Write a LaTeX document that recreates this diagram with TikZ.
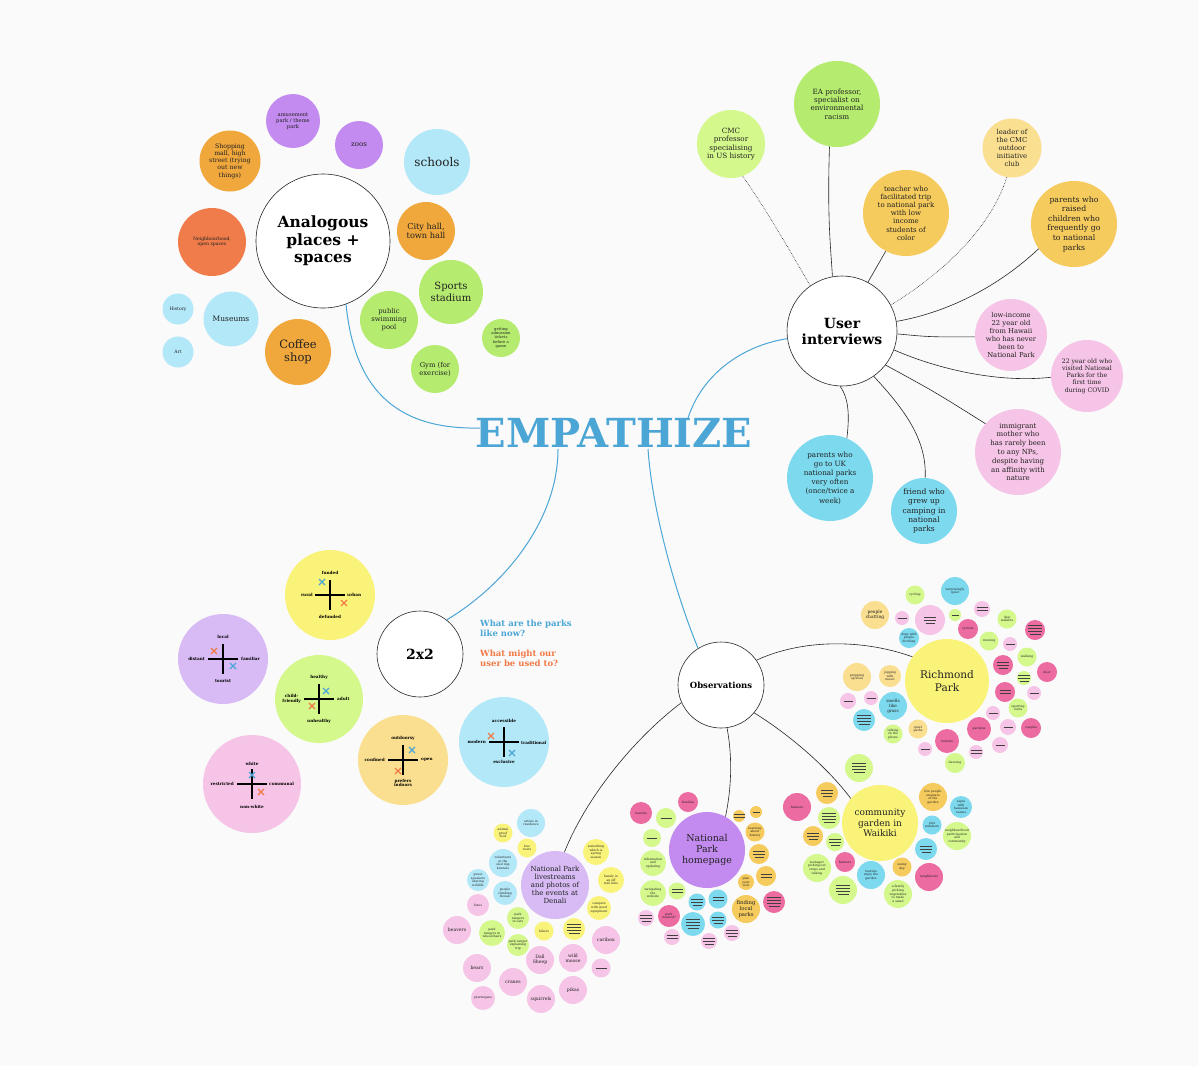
\documentclass[tikz,border=0pt]{standalone}
\usepackage{fontspec}
\setmainfont{DejaVu Serif}
\definecolor{bgc}{HTML}{FAFAFA}
\definecolor{txt}{HTML}{222222}
\definecolor{empblue}{HTML}{4BA6D6}
\definecolor{qorange}{HTML}{F07A46}
\definecolor{cPurple}{HTML}{C38BEF}
\definecolor{cLPurple}{HTML}{D8BBF5}
\definecolor{cOrange}{HTML}{F0A73C}
\definecolor{cRed}{HTML}{EF7C4A}
\definecolor{cLBlue}{HTML}{B3E8F8}
\definecolor{cCyan}{HTML}{7CD9EE}
\definecolor{cGreen}{HTML}{B5EC6F}
\definecolor{cLGreen}{HTML}{D4F88C}
\definecolor{cYellow}{HTML}{FAF379}
\definecolor{cLOr}{HTML}{FADF90}
\definecolor{cGold}{HTML}{F6CB5D}
\definecolor{cPink}{HTML}{F5C4E6}
\definecolor{cHot}{HTML}{EC6BA0}
\definecolor{xblue}{HTML}{4BA6D6}
\definecolor{xorange}{HTML}{F07A46}
\newcommand{\Lone}[1]{\textcolor{black!75}{\rule[0.3pt]{#1pt}{0.6pt}}}
\newcommand{\LI}{\Lone{9}}
\newcommand{\LII}{\Lone{11}\\\Lone{11}}
\newcommand{\LIII}{\Lone{12}\\\Lone{12}\\\Lone{9}}
\newcommand{\LIV}{\Lone{14}\\\Lone{14}\\\Lone{14}\\\Lone{11}}
\newcommand{\twoax}[2]{\draw[axis] (#1-15,#2) -- (#1+15,#2) (#1,#2-15) -- (#1,#2+15);}
\tikzset{
  fs/.style args={#1/#2}{font=\fontsize{#1}{#2}\selectfont},
  fsb/.style args={#1/#2}{font=\fontsize{#1}{#2}\selectfont\bfseries},
  bub/.style={circle, fill=#1, draw=none, inner sep=0pt, align=center, text=txt},
  hub/.style={circle, draw=black!85, line width=0.6pt, fill=white, inner sep=0pt, align=center, text=black},
  tb/.style={bub=#1, fs=3.1/3.6},
  mb/.style={bub=#1, fs=4.6/5.4},
  lb/.style={bub=#1, fs=2.6/3.0},
  conn/.style={draw=black!85, line width=0.6pt},
  dconn/.style={conn, densely dotted},
  bconn/.style={draw=empblue, line width=1pt},
  axis/.style={draw=black, line width=1.4pt},
  axl/.style={fsb=4.2/4.8, inner sep=0pt, align=center, text=black},
  xmk/.pic={\draw[line width=1.3pt] (-3,-3) -- (3,3) (-3,3) -- (3,-3);},
}
\begin{document}
\begin{tikzpicture}[x=1pt, y=-1pt]
\fill[bgc] (0,0) rectangle (1198,1066);
\useasboundingbox (0,0) rectangle (1198,1066);

% ---------- central title ----------
\node[fsb=40/42, text=empblue, inner sep=0pt] (emp) at (614,433) {EMPATHIZE};
\coordinate (empA) at (480,428);
\coordinate (empUI) at (688,418);
\coordinate (empT) at (558,449);
\coordinate (empO) at (648,449);

% ---------- Analogous places ----------
\node[hub, minimum size=134, fsb=15.5/17.5] (ana) at (323,241) {Analogous\\places +\\spaces};
\node[bub=cPurple, minimum size=54, fs=5.2/6] (amu) at (293,121) {amusement\\park / theme\\park};
\node[bub=cPurple, minimum size=48, fs=7/8] (zoo) at (359,145) {zoos};
\node[bub=cLBlue, minimum size=66, fs=12/13] (sch) at (437,162) {schools};
\node[bub=cOrange, minimum size=61, fs=6.2/7.2] (shp) at (230,161) {Shopping\\mall, high\\street (trying\\out new\\things)};
\node[bub=cRed, minimum size=68, fs=4.6/5.4] (nei) at (212,242) {Neighbourhood,\\open spaces};
\node[bub=cOrange, minimum size=58, fs=8.2/9.5] (cty) at (426,231) {City hall,\\town hall};
\node[bub=cGreen, minimum size=64, fs=10/11.5] (spo) at (451,292) {Sports\\stadium};
\node[bub=cGreen, minimum size=58, fs=6.8/8] (swi) at (389,320) {public\\swimming\\pool};
\node[bub=cGreen, minimum size=38, fs=3.8/4.4] (tix) at (501,338) {getting\\admission\\tickets\\before a\\game};
\node[bub=cGreen, minimum size=48, fs=6.8/8] (gym) at (435,369) {Gym (for\\exercise)};
\node[bub=cOrange, minimum size=66, fs=11.5/13] (cof) at (298,352) {Coffee\\shop};
\node[bub=cLBlue, minimum size=55, fs=7.5/9] (mus) at (231,319) {Museums};
\node[bub=cLBlue, minimum size=31, fs=4.5/5] (his) at (178,309) {History};
\node[bub=cLBlue, minimum size=31, fs=4.5/5] (art) at (178,352) {Art};
\draw[bconn] (ana.-70) .. controls (354,385) and (392,430) .. (empA);

% ---------- User interviews ----------
\node[hub, minimum size=110, fsb=14/16] (ui) at (842,331) {User\\interviews};
\node[bub=cLGreen, minimum size=68, fs=7.2/8.3] (cmc) at (731,144) {CMC\\professor\\specialising\\in US history};
\node[bub=cGreen, minimum size=86, fs=7.2/8.3] (ea) at (837,104) {EA professor,\\specialist on\\environmental\\racism};
\node[bub=cGold, minimum size=86, fs=7/8.2] (tea) at (906,213) {teacher who\\facilitated trip\\to national park\\with low\\income\\students of\\color};
\node[bub=cLOr, minimum size=59, fs=6.8/8] (lea) at (1012,148) {leader of\\the CMC\\outdoor\\initiative\\club};
\node[bub=cGold, minimum size=86, fs=7.8/9.6] (par) at (1074,224) {parents who\\raised\\children who\\frequently go\\to national\\parks};
\node[bub=cPink, minimum size=72, fs=6.8/7.9] (low) at (1011,335) {low-income\\22 year old\\from Hawaii\\who has never\\been to\\National Park};
\node[bub=cPink, minimum size=72, fs=6.2/7.2] (y22) at (1087,376) {22 year old who\\visited National\\Parks for the\\first time\\during COVID};
\node[bub=cPink, minimum size=86, fs=7/8.8] (imm) at (1018,452) {immigrant\\mother who\\has rarely been\\to any NPs,\\despite having\\an affinity with\\nature};
\node[bub=cCyan, minimum size=86, fs=7.2/9.2] (uk) at (830,478) {parents who\\go to UK\\national parks\\very often\\(once/twice a\\week)};
\node[bub=cCyan, minimum size=66, fs=7.6/9.4] (fri) at (924,511) {friend who\\grew up\\camping in\\national\\parks};
\draw[dconn] (cmc.-70) .. controls (770,215) and (795,260) .. (ui.125);
\draw[conn] (ea.-100) .. controls (827,220) and (831,250) .. (ui.100);
\draw[conn] (tea.-118) -- (ui.62);
\draw[dconn] (lea.-100) .. controls (990,230) and (940,275) .. (ui.28);
\draw[conn] (par.-145) .. controls (1000,285) and (950,312) .. (ui.10);
\draw[conn] (ui.-3) .. controls (930,337) .. (low.183);
\draw[conn] (ui.-20) .. controls (940,370) and (1000,383) .. (y22.182);
\draw[conn] (ui.-38) .. controls (935,392) .. (imm.139);
\draw[conn] (ui.-92) .. controls (850,400) and (849,420) .. (uk.67);
\draw[conn] (ui.-55) .. controls (905,410) and (927,440) .. (fri.88);
\draw[bconn] (ui.188) .. controls (745,345) and (703,372) .. (empUI);

% ---------- 2x2 ----------
\node[hub, minimum size=86, fsb=14/16] (two) at (420,654) {2x2};
\draw[bconn] (two.52) .. controls (505,585) and (558,520) .. (empT);
\node[fsb=8.5/10, text=empblue, align=left, anchor=north west, inner sep=0pt] (q1) at (480,620) {What are the parks\\like now?};
\node[fsb=8.5/10, text=qorange, align=left, anchor=north west, inner sep=0pt] (q2) at (480,650) {What might our\\user be used to?};

\node[bub=cYellow, minimum size=90] (ya) at (330,595) {};
\twoax{330}{595}
\node[axl] (ya1) at (330,573) {funded};
\node[axl] (ya2) at (330,617) {defunded};
\node[axl, anchor=east] (ya3) at (313,595) {rural};
\node[axl, anchor=west] (ya4) at (347,595) {urban};
\pic[color=xblue] at (322,582) {xmk};
\pic[color=xorange] at (344,603) {xmk};

\node[bub=cLPurple, minimum size=90] (pa) at (223,659) {};
\twoax{223}{659}
\node[axl] (pa1) at (223,637) {local};
\node[axl] (pa2) at (223,681) {tourist};
\node[axl, anchor=east] (pa3) at (205,659) {distant};
\node[axl, anchor=west] (pa4) at (241,659) {familiar};
\pic[color=xorange] at (214,651) {xmk};
\pic[color=xblue] at (233,666) {xmk};

\node[bub=cLGreen, minimum size=88] (ga) at (319,699) {};
\twoax{319}{699}
\node[axl] (ga1) at (319,677) {healthy};
\node[axl] (ga2) at (319,721) {unhealthy};
\node[axl, anchor=east] (ga3) at (301,699) {child-\\friendly};
\node[axl, anchor=west] (ga4) at (337,699) {adult};
\pic[color=xblue] at (326,691) {xmk};
\pic[color=xorange] at (312,706) {xmk};

\node[bub=cPink, minimum size=98] (pk) at (252,784) {};
\twoax{252}{784}
\node[axl] (pk1) at (252,764) {white};
\node[axl] (pk2) at (252,807) {non-white};
\node[axl, anchor=east] (pk3) at (234,784) {restricted};
\node[axl, anchor=west] (pk4) at (269,784) {communal};
\pic[color=xblue] at (252,775) {xmk};
\pic[color=xorange] at (261,792) {xmk};

\node[bub=cLOr, minimum size=90] (oa) at (403,760) {};
\twoax{403}{760}
\node[axl] (oa1) at (403,738) {outdoorsy};
\node[axl] (oa2) at (403,783) {prefers\\indoors};
\node[axl, anchor=east] (oa3) at (385,760) {confined};
\node[axl, anchor=west] (oa4) at (421,760) {open};
\pic[color=xblue] at (412,750) {xmk};
\pic[color=xorange] at (398,771) {xmk};

\node[bub=cLBlue, minimum size=90] (ba) at (504,742) {};
\twoax{504}{742}
\node[axl] (ba1) at (504,721) {accessible};
\node[axl] (ba2) at (504,762) {exclusive};
\node[axl, anchor=east] (ba3) at (486,742) {modern};
\node[axl, anchor=west] (ba4) at (521,743) {traditional};
\pic[color=xorange] at (491,736) {xmk};
\pic[color=xblue] at (512,753) {xmk};

% ---------- Observations ----------
\node[hub, minimum size=86, fsb=8.5/10] (obs) at (721,685) {Observations};
\draw[bconn] (obs.122) .. controls (676,595) and (652,510) .. (empO);

\node[bub=cYellow, minimum size=84, fs=10.5/12.5] (rp) at (947,681) {Richmond\\Park};
\node[bub=cPurple, minimum size=76, fs=9.5/11] (nph) at (707,850) {National\\Park\\homepage};
\node[bub=cYellow, minimum size=76, fs=9/10.5] (cg) at (880,823) {community\\garden in\\Waikiki};
\node[bub=cLPurple, minimum size=68, fs=7/7.9] (den) at (555,885) {National Park\\livestreams\\and photos of\\the events at\\Denali};
\draw[conn] (obs.35) .. controls (800,640) and (860,638) .. (rp.145);
\draw[conn] (obs.-82) .. controls (733,760) and (731,790) .. (nph.61);
\draw[conn] (obs.-40) .. controls (790,735) and (828,768) .. (cg.140);
\draw[conn] (obs.-156) .. controls (632,740) and (585,800) .. (den.74);

% ---------- Richmond Park cluster ----------
\node[tb=cLGreen, minimum size=19] (r1) at (915,595) {cycling};
\node[tb=cCyan, minimum size=28] (r2) at (955,591) {surprisingly\\quiet};
\node[bub=cLOr, minimum size=28, fs=4.4/5.2] (r3) at (875,615) {people\\chatting};
\node[lb=cPink, minimum size=14] (r4) at (902,618) {\LI};
\node[lb=cPink, minimum size=30] (r5) at (930,620) {\LIII};
\node[lb=cLGreen, minimum size=12] (r6) at (955,615) {\Lone{7}};
\node[lb=cPink, minimum size=16] (r7) at (982,609) {\LII};
\node[tb=cLGreen, minimum size=19] (r8) at (1007,619) {dog\\walkers};
\node[tb=cHot, minimum size=20] (r9) at (968,629) {cyclists};
\node[lb=cHot, minimum size=20] (r10) at (1035,630) {\LIV};
\node[tb=cCyan, minimum size=20] (r11) at (909,638) {dogs with\\people\\fetching};
\node[tb=cLGreen, minimum size=19] (r12) at (989,641) {running};
\node[lb=cPink, minimum size=14] (r13) at (1010,644) {\LI};
\node[lb=cHot, minimum size=20] (r14) at (1003,665) {\LIII};
\node[tb=cLGreen, minimum size=19] (r15) at (1027,657) {walking};
\node[tb=cHot, minimum size=20] (r16) at (1047,672) {deer};
\node[lb=cLGreen, minimum size=14] (r17) at (1024,678) {\LIII};
\node[tb=cLOr, minimum size=28] (r18) at (857,677) {propping\\up kites};
\node[tb=cLOr, minimum size=22] (r19) at (890,676) {jogging\\with\\music};
\node[lb=cHot, minimum size=20] (r20) at (1005,692) {\LII};
\node[lb=cPink, minimum size=14] (r21) at (1034,693) {\LI};
\node[lb=cPink, minimum size=16] (r22) at (848,701) {\LI};
\node[lb=cPink, minimum size=14] (r23) at (871,698) {\LI};
\node[bub=cCyan, minimum size=28, fs=4.2/5] (r24) at (893,706) {smells\\like\\grass};
\node[lb=cCyan, minimum size=22] (r25) at (864,720) {\LIV};
\node[lb=cPink, minimum size=14] (r26) at (993,713) {\LI};
\node[tb=cLGreen, minimum size=19] (r27) at (1018,708) {sporting\\clubs};
\node[tb=cLGreen, minimum size=19] (r28) at (893,734) {talking\\on the\\phone};
\node[tb=cLOr, minimum size=19] (r29) at (918,729) {quiet\\paths};
\node[tb=cHot, minimum size=24] (r30) at (979,729) {gardens};
\node[lb=cPink, minimum size=16] (r31) at (1008,727) {\LI};
\node[tb=cHot, minimum size=20] (r32) at (1031,728) {couples};
\node[tb=cHot, minimum size=24] (r33) at (947,741) {tourists};
\node[lb=cPink, minimum size=14] (r34) at (925,749) {\LI};
\node[lb=cPink, minimum size=14] (r35) at (976,752) {\LII};
\node[lb=cPink, minimum size=16] (r36) at (1000,745) {\LI};
\node[tb=cLGreen, minimum size=20] (r37) at (955,763) {dancing};

% ---------- National Park homepage cluster ----------
\node[tb=cHot, minimum size=20] (n1) at (688,802) {families};
\node[tb=cHot, minimum size=22] (n2) at (641,813) {tourists};
\node[lb=cLGreen, minimum size=20] (n3) at (666,818) {\Lone{11}};
\node[lb=cLGreen, minimum size=18] (n4) at (652,838) {\Lone{10}};
\node[lb=cGold, minimum size=12] (n5) at (739,816) {\LII};
\node[lb=cGold, minimum size=12] (n6) at (756,812) {\Lone{7}};
\node[tb=cGold, minimum size=19] (n7) at (755,832) {learning\\about\\history};
\node[lb=cGold, minimum size=20] (n8) at (759,854) {\LIII};
\node[lb=cGold, minimum size=20] (n9) at (766,876) {\LII};
\node[tb=cGold, minimum size=16] (n10) at (746,882) {plan\\your\\visit};
\node[tb=cLGreen, minimum size=26] (n11) at (653,863) {information\\and\\updating};
\node[tb=cLGreen, minimum size=26] (n12) at (653,893) {navigating\\the\\website};
\node[lb=cLGreen, minimum size=17] (n13) at (677,891) {\LII};
\node[lb=cCyan, minimum size=17] (n14) at (697,902) {\LIII};
\node[lb=cCyan, minimum size=19] (n15) at (718,899) {\LII};
\node[bub=cGold, minimum size=28, fs=5.3/6.3] (n16) at (746,909) {finding\\local\\parks};
\node[lb=cHot, minimum size=22] (n17) at (774,902) {\LIV};
\node[tb=cHot, minimum size=22] (n18) at (669,916) {park\\nearest?};
\node[lb=cPink, minimum size=16] (n19) at (646,918) {\LIII};
\node[lb=cCyan, minimum size=24] (n20) at (693,924) {\LIV};
\node[lb=cCyan, minimum size=17] (n21) at (718,920) {\LIII};
\node[lb=cPink, minimum size=16] (n22) at (732,933) {\LIII};
\node[lb=cPink, minimum size=16] (n23) at (672,937) {\LII};
\node[lb=cPink, minimum size=16] (n24) at (709,941) {\LIII};

% ---------- community garden cluster ----------
\node[lb=cLGreen, minimum size=28] (c1) at (859,768) {\LIV};
\node[lb=cGold, minimum size=22] (c2) at (827,793) {\LIII};
\node[tb=cHot, minimum size=28] (c3) at (797,807) {farmers};
\node[lb=cLGreen, minimum size=22] (c4) at (829,818) {\LIV};
\node[lb=cGold, minimum size=20] (c5) at (813,836) {\LIII};
\node[lb=cLGreen, minimum size=18] (c6) at (835,842) {\LIII};
\node[tb=cLGreen, minimum size=28] (c7) at (817,868) {teenager\\picking out\\crops and\\talking};
\node[tb=cHot, minimum size=20] (c8) at (845,862) {farmers};
\node[lb=cLGreen, minimum size=28] (c9) at (843,890) {\LIV};
\node[tb=cCyan, minimum size=28] (c10) at (871,875) {tourists\\enjoy the\\garden};
\node[tb=cGold, minimum size=19] (c11) at (902,867) {sunny\\day};
\node[tb=cLGreen, minimum size=28] (c12) at (898,894) {a family\\picking\\vegetables\\to make\\a salad};
\node[tb=cGold, minimum size=28] (c13) at (933,797) {few people\\unaware\\of the\\garden};
\node[tb=cCyan, minimum size=22] (c14) at (961,807) {signs\\with\\hawaiian\\names};
\node[tb=cCyan, minimum size=19] (c15) at (932,825) {plot\\numbers};
\node[tb=cLGreen, minimum size=28] (c16) at (957,836) {neighbourhood\\participation\\and\\community};
\node[lb=cCyan, minimum size=22] (c17) at (926,849) {\LIII};
\node[tb=cHot, minimum size=28] (c18) at (929,877) {neighbours};

% ---------- Denali cluster ----------
\node[tb=cLBlue, minimum size=28] (d1) at (531,823) {artists in\\residence};
\node[tb=cYellow, minimum size=19] (d2) at (503,833) {animal\\proof\\food};
\node[tb=cYellow, minimum size=19] (d3) at (527,848) {bus\\tours};
\node[tb=cLBlue, minimum size=28] (d4) at (503,863) {volunteers\\at the\\sled dog\\kennels};
\node[tb=cLBlue, minimum size=22] (d5) at (478,880) {guest\\speakers\\sharing\\wildlife};
\node[tb=cLBlue, minimum size=24] (d6) at (505,893) {people\\climbing\\Denali};
\node[tb=cPink, minimum size=22] (d7) at (478,905) {foxes};
\node[mb=cPink, minimum size=28] (d8) at (457,930) {beavers};
\node[tb=cLGreen, minimum size=22] (d9) at (518,918) {park\\rangers\\in cars};
\node[tb=cLGreen, minimum size=26] (d10) at (492,933) {park\\rangers in\\wheelchairs};
\node[tb=cLGreen, minimum size=22] (d11) at (518,945) {park ranger\\explaining\\trip};
\node[tb=cYellow, minimum size=19] (d12) at (544,931) {bikers};
\node[lb=cYellow, minimum size=22] (d13) at (574,929) {\LIV};
\node[tb=cYellow, minimum size=26] (d14) at (596,852) {something\\which is\\spring\\season};
\node[tb=cYellow, minimum size=26] (d15) at (611,880) {family in\\an off\\trail hike};
\node[tb=cYellow, minimum size=24] (d16) at (599,908) {campers\\with good\\equipment};
\node[mb=cPink, minimum size=28] (d17) at (606,940) {caribou};
\node[lb=cPink, minimum size=19] (d18) at (601,968) {\Lone{11}};
\node[mb=cPink, minimum size=28] (d19) at (540,960) {Dall\\Sheep};
\node[mb=cPink, minimum size=28] (d20) at (573,958) {wild\\moose};
\node[mb=cPink, minimum size=28] (d21) at (477,968) {bears};
\node[mb=cPink, minimum size=28] (d22) at (513,982) {cranes};
\node[tb=cPink, minimum size=24] (d23) at (483,998) {ptarmigans};
\node[mb=cPink, minimum size=28] (d24) at (541,999) {squirrels};
\node[mb=cPink, minimum size=28] (d25) at (573,990) {pikas};
\end{tikzpicture}
\end{document}
